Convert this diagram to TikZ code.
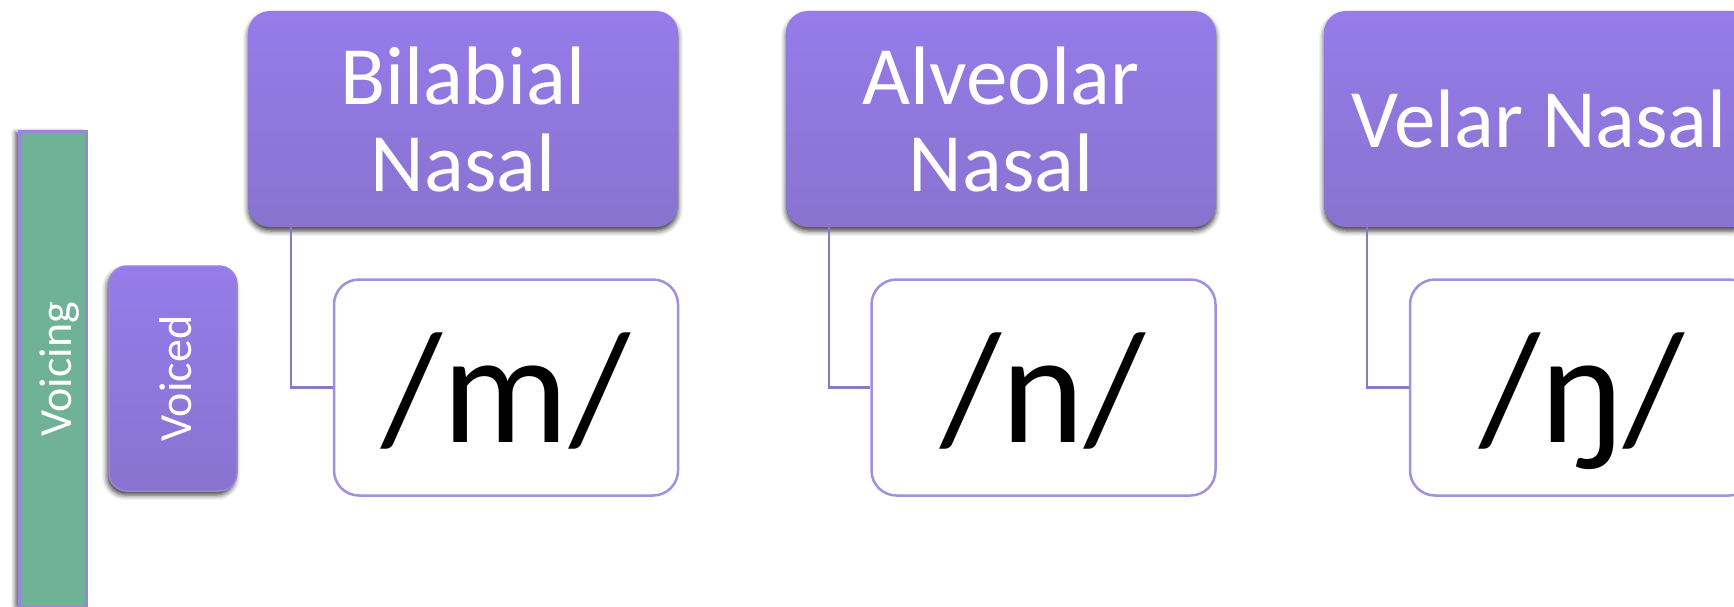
\documentclass[tikz,border=0pt]{standalone}
\usepackage{fontspec}
\setmainfont{Carlito}
\usetikzlibrary{shadows.blur}
\definecolor{hdrtop}{RGB}{150,123,234}
\definecolor{hdrbot}{RGB}{137,115,207}
\definecolor{greenbar}{RGB}{111,178,152}
\definecolor{barborder}{RGB}{155,132,222}
\definecolor{boxborder}{RGB}{162,144,222}
\definecolor{conncol}{RGB}{139,121,200}
\tikzset{
  hdr/.style={rounded corners=22pt, top color=hdrtop, bottom color=hdrbot, draw=none,
    minimum width=430pt, minimum height=216pt, inner sep=0pt, align=center, text=white,
    font=\fontsize{83}{87}\selectfont,
    blur shadow={shadow xshift=0pt, shadow yshift=-4pt, shadow blur radius=5pt, shadow opacity=75}},
  val/.style={rounded corners=25pt, fill=white, draw=boxborder, line width=2.5pt,
    minimum width=344pt, minimum height=216pt, inner sep=0pt,
    font=\fontsize{158}{160}\selectfont, text height=120pt, text depth=11pt},
  link/.style={draw=conncol, line width=2.5pt},
  sidetxt/.style={rotate=90, text=white, font=\fontsize{46}{46}\selectfont, inner sep=0pt,
    text height=29pt, text depth=0pt}
}
\begin{document}
\begin{tikzpicture}[x=1pt,y=-1pt]
\useasboundingbox (0,0) rectangle (1734,607);
\clip (0,0) rectangle (1734,607);
% voicing bar
\node[fill=greenbar, draw=barborder, line width=3pt, minimum width=67pt, minimum height=475pt,
  inner sep=0pt, blur shadow={shadow xshift=-4pt, shadow yshift=0pt, shadow blur radius=4pt, shadow opacity=60}]
  (voicing) at (52.5,369.5) {};
\node[sidetxt] (voicingtxt) at ([xshift=4.5pt]voicing.center) {Voicing};
% voiced box
\node[rounded corners=18pt, top color=hdrtop, bottom color=hdrbot, draw=barborder, line width=1.5pt,
  minimum width=128pt, minimum height=225pt, inner sep=0pt,
  blur shadow={shadow xshift=-2pt, shadow yshift=-4pt, shadow blur radius=5pt, shadow opacity=75}]
  (voiced) at (173,378.5) {};
\node[sidetxt] (voicedtxt) at ([xshift=4pt]voiced.center) {Voiced};
% headers
\node[hdr] (bh) at (463,119) {Bilabial\\Nasal};
\node[hdr] (ah) at (1001,119) {Alveolar\\Nasal};
\node[hdr] (vh) at (1539,119) {Velar Nasal};
% values
\node[val] (bv) at (506,387.5) {/m/};
\node[val] (av) at (1043.5,387.5) {/n/};
\node[val] (vv) at (1582,387.5) {/ŋ/};
% connectors
\draw[link] ([xshift=43pt]bh.south west) |- (bv.west);
\draw[link] ([xshift=43pt]ah.south west) |- (av.west);
\draw[link] ([xshift=43pt]vh.south west) |- (vv.west);
\end{tikzpicture}
\end{document}
